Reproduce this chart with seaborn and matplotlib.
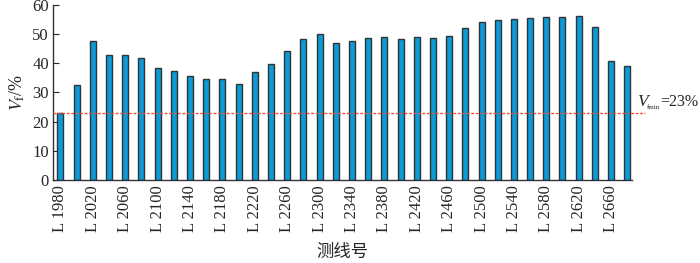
import seaborn as sns
import pandas as pd
from matplotlib import pyplot as plt

# survey line numbers (every 20 m), only every other one is labelled
lines = [
    "L 1980", "L 2000", "L 2020", "L 2040", "L 2060", "L 2080",
    "L 2100", "L 2120", "L 2140", "L 2160", "L 2180", "L 2200",
    "L 2220", "L 2240", "L 2260", "L 2280", "L 2300", "L 2320",
    "L 2340", "L 2360", "L 2380", "L 2400", "L 2420", "L 2440",
    "L 2460", "L 2480", "L 2500", "L 2520", "L 2540", "L 2560",
    "L 2580", "L 2600", "L 2620", "L 2640", "L 2660", "L 2680",
]
vf = [
    22.9, 32.7, 47.5, 43.0, 43.0, 41.8, 38.4, 37.5, 35.6, 34.7, 34.5, 33.0,
    37.1, 39.9, 44.3, 48.3, 50.0, 46.9, 47.5, 48.6, 49.0, 48.3, 49.0, 48.6,
    49.2, 52.0, 54.1, 54.9, 55.2, 55.4, 55.8, 56.0, 56.2, 52.4, 40.7, 39.0,
]
vf_min = 23
tick_labels = lines[::2]

sns.set_style("white")
plt.rcParams["font.family"] = ["Liberation Serif", "Noto Sans CJK SC"]
plt.rcParams["mathtext.fontset"] = "stix"

df = pd.DataFrame({"line": lines, "vf": vf})

fig = plt.figure(figsize=(7, 2.63), dpi=100)
ax = fig.add_axes([0.076, 0.316, 0.827, 0.665])
sns.barplot(
    data=df,
    x="line",
    y="vf",
    ax=ax,
    color="#0b9bd7",
    saturation=1,
    width=0.37,
    edgecolor="#333333",
    linewidth=1.0,
)

# threshold line, runs a little past the axes
ax.axhline(vf_min, xmin=0, xmax=1.022, color="#e8503f", lw=1.0,
           ls=(0, (2, 1.2)), clip_on=False, zorder=3)

# label "V_fmin=23%" with a tiny subscript, placed in figure pixels
ax.annotate("V", (637, 157), xycoords="figure pixels", fontsize=12.5,
            fontstyle="italic", va="baseline", ha="left")
ax.annotate("fmin", (647, 154), xycoords="figure pixels", fontsize=5,
            va="baseline", ha="left")
ax.annotate(f"={vf_min}%", (660, 157), xycoords="figure pixels", fontsize=11.5,
            va="baseline", ha="left")

ax.set_xlim(-0.45, 35.3)
ax.set_ylim(0, 60)
ax.set_yticks([0, 10, 20, 30, 40, 50, 60])
ax.set_xticks(range(0, len(lines), 2))
ax.set_xticklabels(tick_labels, rotation=90)
ax.tick_params(axis="x", length=0, pad=4, labelsize=12)
ax.tick_params(axis="y", direction="in", length=4, width=0.8, labelsize=12,
               left=True, pad=3)

for side in ["top", "right"]:
    ax.spines[side].set_visible(False)
for side in ["left", "bottom"]:
    ax.spines[side].set_color("#333333")
    ax.spines[side].set_linewidth(1.0)

ax.set_ylabel(r"$V_{\mathrm{f}}$/%", fontsize=13, labelpad=4)
ax.set_xlabel("测线号", fontsize=12.5, family=["Noto Sans CJK SC"], labelpad=8)

fig.savefig("out.png", dpi=100)
